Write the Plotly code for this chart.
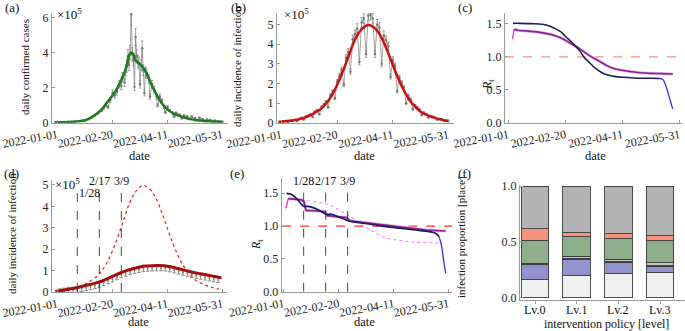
import plotly.graph_objects as go
import pandas as pd

W, H = 685, 331
START = pd.Timestamp("2022-01-01")


def to_dates(days):
    return [START + pd.Timedelta(days=float(d)) for d in days]


# ---------------- (a) daily confirmed cases (x 1e5) ----------------
a_obs_day = [-2, 1, 4, 7, 10, 13, 16, 19, 22, 25, 28, 31, 34, 37, 40, 42, 44, 46, 48, 50,
             52, 54, 56, 58, 59, 61, 62, 63, 64, 65, 66, 67, 68, 69, 70, 71, 72, 73, 74, 75,
             76, 77, 78, 79, 80, 81, 83, 84, 86, 88, 90, 91, 93, 95, 97, 98, 100, 102, 105, 106,
             108, 111, 113, 115, 118, 120, 122, 125, 127, 129, 132, 134, 136, 139, 141, 143, 146, 148, 150]
a_obs_val = [0.02, 0.02, 0.03, 0.03, 0.04, 0.05, 0.06, 0.08, 0.10, 0.13, 0.20, 0.30, 0.42, 0.55, 0.70, 0.85, 1.00, 0.90, 1.30, 1.70,
             1.55, 1.75, 2.20, 2.10, 2.60, 2.30, 3.00, 3.20, 3.80, 3.30, 4.00, 6.20, 3.90, 3.60, 2.05, 4.90, 3.80, 3.50, 3.40, 2.20,
             3.30, 4.25, 3.00, 1.70, 2.90, 2.80, 2.50, 1.50, 2.20, 1.90, 1.50, 1.00, 1.50, 1.25, 0.90, 0.60, 0.90, 0.70, 0.50, 0.35,
             0.55, 0.45, 0.25, 0.40, 0.35, 0.20, 0.35, 0.25, 0.15, 0.28, 0.20, 0.10, 0.18, 0.15, 0.07, 0.12, 0.08, 0.05, 0.06]
a_fit_day = [-2, 5, 10, 15, 20, 25, 30, 35, 40, 45, 50, 55, 58, 61, 63, 65, 67, 69, 71, 74,
             77, 80, 83, 86, 90, 95, 100, 105, 110, 115, 120, 125, 130, 135, 140, 145, 150]
a_fit_val = [0.02, 0.03, 0.04, 0.06, 0.09, 0.14, 0.28, 0.48, 0.75, 1.15, 1.55, 2.05, 2.45, 2.90, 3.30, 3.85, 4.00, 3.90, 3.55, 3.40,
             3.20, 2.95, 2.55, 2.10, 1.60, 1.10, 0.75, 0.55, 0.40, 0.30, 0.22, 0.16, 0.12, 0.09, 0.07, 0.05, 0.04]

# ---------------- (b) daily incidence of infection (x 1e5) ----------------
b_obs_day = list(range(-2, 151, 2))
b_obs_val = [0.06, 0.08, 0.09, 0.10, 0.06, 0.12, 0.14, 0.16, 0.10, 0.22, 0.26, 0.18, 0.33, 0.38, 0.43, 0.30,
             0.58, 0.65, 0.45, 0.82, 0.94, 1.08, 0.80, 1.42, 1.60, 1.25, 2.10, 2.40, 2.70, 1.95, 3.30, 3.60,
             2.60, 4.25, 4.50, 4.80, 3.10, 5.10, 5.30, 3.50, 5.45, 5.50, 5.30, 3.50, 5.00, 4.85, 3.00, 4.45,
             4.20, 3.90, 2.35, 3.20, 2.90, 1.60, 2.30, 2.05, 1.80, 1.00, 1.38, 1.20, 0.70, 0.90, 0.79, 0.69,
             0.40, 0.53, 0.46, 0.28, 0.36, 0.32, 0.28, 0.16, 0.22, 0.19, 0.11, 0.14, 0.11]
b_fit_day = [-2, 0, 5, 10, 15, 20, 25, 30, 35, 40, 45, 50, 55, 60, 65, 70, 75, 78, 80, 85,
             90, 95, 100, 105, 110, 115, 120, 125, 130, 135, 140, 145, 150]
b_fit_val = [0.05, 0.07, 0.10, 0.13, 0.18, 0.26, 0.36, 0.52, 0.70, 0.98, 1.38, 1.93, 2.60, 3.35, 4.10, 4.62, 4.90, 4.97, 4.95, 4.75,
             4.32, 3.68, 2.95, 2.25, 1.65, 1.17, 0.83, 0.57, 0.42, 0.31, 0.22, 0.15, 0.10]

# ---------------- (c) effective reproduction number ----------------
c_navy_day = [4, 10, 20, 27, 34, 41, 46, 50, 55, 59, 63, 66, 70, 76, 82, 88, 94, 100, 110, 118, 126, 132]
c_navy_val = [1.51, 1.51, 1.505, 1.50, 1.48, 1.43, 1.38, 1.31, 1.23, 1.16, 1.08, 1.00, 0.93, 0.83, 0.76, 0.72, 0.70, 0.69, 0.68, 0.675, 0.675, 0.672]
c_navy_end_day = [132, 135, 137, 139, 141, 143, 144]
c_navy_end_val = [0.672, 0.66, 0.60, 0.50, 0.38, 0.26, 0.21]
c_purple_start_day = [3.5, 5]
c_purple_start_val = [1.27, 1.42]
c_purple_day = [5, 8, 15, 25, 35, 41, 47, 53, 58, 62, 66, 70, 75, 80, 86, 91, 98, 106, 115, 124, 135, 144]
c_purple_val = [1.42, 1.405, 1.395, 1.38, 1.35, 1.32, 1.28, 1.22, 1.17, 1.13, 1.08, 1.03, 0.98, 0.93, 0.87, 0.83, 0.80, 0.78, 0.76, 0.75, 0.745, 0.74]
rt_threshold = 1.0

# ---------------- (d) incidence under intervention ----------------
policy_day = [18, 38, 58]
policy_label = ["1/28", "2/17", "3/9"]
d_fit_day = [-2, 5, 10, 17.6, 25, 32, 38, 43, 48, 53, 58, 64, 69, 75, 80, 85, 91, 97, 103, 109, 116, 124, 130, 137, 143, 149]
d_fit_val = [0.02, 0.08, 0.13, 0.20, 0.30, 0.38, 0.47, 0.57, 0.68, 0.80, 0.91, 1.02, 1.10, 1.17, 1.21, 1.23, 1.24, 1.23, 1.18, 1.10, 1.01, 0.91, 0.85, 0.78, 0.72, 0.66]
d_obs_day = list(range(2, 147, 4))
d_obs_val = [0.02, 0.05, 0.08, 0.10, 0.12, 0.16, 0.20, 0.24, 0.29, 0.35, 0.43, 0.52, 0.60, 0.70, 0.79, 0.87, 0.94, 0.99, 1.04,
             1.08, 1.10, 1.11, 1.12, 1.12, 1.11, 1.07, 1.02, 0.97, 0.92, 0.87, 0.81, 0.77, 0.73, 0.69, 0.65, 0.61, 0.57]

# ---------------- (e) R_t under intervention ----------------
e_navy_day = [2.4, 7, 11.6, 16.2, 18.3, 22.3, 28.4, 34.4, 38.4, 43.6, 49.7, 55.8, 58.8, 74, 89.3, 104.6, 119.8, 132, 138, 141.2]
e_navy_val = [1.50, 1.48, 1.42, 1.33, 1.30, 1.30, 1.27, 1.22, 1.18, 1.18, 1.14, 1.10, 1.08, 1.04, 1.00, 0.97, 0.94, 0.915, 0.89, 0.84]
e_navy_end_day = [141.2, 143, 144.2, 145.5, 147.3]
e_navy_end_val = [0.84, 0.74, 0.62, 0.46, 0.28]
e_purple_start_day = [1.8, 4]
e_purple_start_val = [1.27, 1.42]
e_purple_day = [4, 10, 16.2, 18.3, 20.1, 30, 37.5, 39.3, 48, 57.3, 59.8, 74, 98.5, 116.8, 130, 147.3]
e_purple_val = [1.42, 1.41, 1.40, 1.37, 1.24, 1.23, 1.22, 1.16, 1.15, 1.13, 1.08, 1.05, 1.00, 0.96, 0.94, 0.925]

# ---------------- (f) infection proportion by place ----------------
levels = ["Lv.0", "Lv.1", "Lv.2", "Lv.3"]
place_names = ["place1", "place2", "place3", "place4", "place5", "place6", "place7"]
place_share = [
    [0.162, 0.198, 0.213, 0.225],
    [0.134, 0.149, 0.104, 0.059],
    [0.015, 0.007, 0.005, 0.005],
    [0.000, 0.020, 0.025, 0.025],
    [0.204, 0.171, 0.183, 0.198],
    [0.105, 0.039, 0.045, 0.045],
    [0.380, 0.416, 0.425, 0.443],
]
place_colors = ["#f0f0f0", "#9393cf", "#5a5a5a", "#c4c4c4", "#8db08a", "#f7937a", "#b3b3b3"]

# ====================================================================
FONT = "Liberation Serif"
AX = "#9a9a9a"

fig = go.Figure()

gray_kw = dict(mode="lines+markers", line=dict(color="#8a8a8a", width=0.8),
               marker=dict(size=2.5, color="#777777"), hoverinfo="skip")

# (a)
fig.add_trace(go.Scatter(x=to_dates(a_obs_day), y=a_obs_val, xaxis="x", yaxis="y",
                         error_y=dict(type="percent", value=10, color="#8a8a8a", thickness=0.8, width=1.2),
                         **gray_kw))
fig.add_trace(go.Scatter(x=to_dates(a_fit_day), y=a_fit_val, xaxis="x", yaxis="y", mode="lines",
                         line=dict(color="#1f7a1f", width=2.5, shape="spline")))
# (b)
fig.add_trace(go.Scatter(x=to_dates(b_obs_day), y=b_obs_val, xaxis="x2", yaxis="y2",
                         error_y=dict(type="percent", value=5, color="#8a8a8a", thickness=0.8, width=1.2),
                         **gray_kw))
fig.add_trace(go.Scatter(x=to_dates(b_fit_day), y=b_fit_val, xaxis="x2", yaxis="y2", mode="lines",
                         line=dict(color="#cc1010", width=2.5, shape="spline")))
# (c)
fig.add_trace(go.Scatter(x=to_dates([c_navy_day[0] - 7, c_navy_end_day[-1] + 9]), y=[rt_threshold] * 2,
                         xaxis="x3", yaxis="y3", mode="lines",
                         line=dict(color="#ff8a8a", width=1.3, dash="dash")))
fig.add_trace(go.Scatter(x=to_dates(c_purple_day), y=c_purple_val, xaxis="x3", yaxis="y3", mode="lines",
                         line=dict(color="#e2bde2", width=3.0, shape="spline")))
fig.add_trace(go.Scatter(x=to_dates(c_purple_start_day), y=c_purple_start_val, xaxis="x3", yaxis="y3",
                         mode="lines", line=dict(color="#e040e0", width=1.4)))
fig.add_trace(go.Scatter(x=to_dates(c_purple_day), y=c_purple_val, xaxis="x3", yaxis="y3", mode="lines",
                         line=dict(color="#8e1f8e", width=1.6, shape="spline")))
fig.add_trace(go.Scatter(x=to_dates(c_navy_day), y=c_navy_val, xaxis="x3", yaxis="y3", mode="lines",
                         line=dict(color="#1c1c62", width=1.6, shape="spline")))
fig.add_trace(go.Scatter(x=to_dates(c_navy_end_day), y=c_navy_end_val, xaxis="x3", yaxis="y3", mode="lines",
                         line=dict(color="#2f2fe6", width=1.3, shape="spline")))
# (d)
fig.add_trace(go.Scatter(x=to_dates(b_fit_day), y=b_fit_val, xaxis="x4", yaxis="y4", mode="lines",
                         line=dict(color="#ff2020", width=1.3, dash="dot", shape="spline")))
fig.add_trace(go.Scatter(x=to_dates(d_obs_day), y=d_obs_val, xaxis="x4", yaxis="y4", mode="markers",
                         marker=dict(size=2, color="#888888"),
                         error_y=dict(type="constant", value=0.13, color="#8a8a8a", thickness=1.0, width=1.8)))
fig.add_trace(go.Scatter(x=to_dates(d_fit_day), y=d_fit_val, xaxis="x4", yaxis="y4", mode="lines",
                         line=dict(color="#a30f0f", width=3, shape="spline")))
# (e)
fig.add_trace(go.Scatter(x=to_dates([e_navy_day[0] - 4, e_navy_end_day[-1] + 7]), y=[rt_threshold] * 2,
                         xaxis="x5", yaxis="y5", mode="lines",
                         line=dict(color="#ff2a2a", width=1.2, dash="dash")))
fig.add_trace(go.Scatter(x=to_dates(c_purple_day), y=c_purple_val, xaxis="x5", yaxis="y5", mode="lines",
                         line=dict(color="#ff78ff", width=1.1, dash="dot", shape="spline")))
fig.add_trace(go.Scatter(x=to_dates(e_purple_day), y=e_purple_val, xaxis="x5", yaxis="y5", mode="lines",
                         line=dict(color="#e2bde2", width=3.0)))
fig.add_trace(go.Scatter(x=to_dates(e_purple_start_day), y=e_purple_start_val, xaxis="x5", yaxis="y5",
                         mode="lines", line=dict(color="#e040e0", width=1.4)))
fig.add_trace(go.Scatter(x=to_dates(e_purple_day), y=e_purple_val, xaxis="x5", yaxis="y5", mode="lines",
                         line=dict(color="#8e1f8e", width=1.7)))
fig.add_trace(go.Scatter(x=to_dates(e_navy_day), y=e_navy_val, xaxis="x5", yaxis="y5", mode="lines",
                         line=dict(color="#1c1c62", width=1.7, shape="spline")))
fig.add_trace(go.Scatter(x=to_dates(e_navy_end_day), y=e_navy_end_val, xaxis="x5", yaxis="y5", mode="lines",
                         line=dict(color="#2f2fe6", width=1.3, shape="spline")))
# (f)
for name, share, col in zip(place_names, place_share, place_colors):
    fig.add_trace(go.Bar(x=list(range(len(levels))), y=share, name=name, xaxis="x6", yaxis="y6",
                         marker=dict(color=col, line=dict(color="#3c3c3c", width=0.9)), width=0.66))


def px_x(p):
    return p / W


def px_y(p):
    return 1 - p / H


date_ticks = ["2022-01-01", "2022-02-20", "2022-04-11", "2022-05-31"]
tick_font = dict(family=FONT, size=12, color="#222")

xbase = dict(type="date", tickvals=date_ticks, ticktext=date_ticks, tickangle=-10, showline=True,
             linecolor=AX, linewidth=1, ticks="inside", ticklen=3, tickcolor=AX, showgrid=False,
             zeroline=False, tickfont=tick_font, fixedrange=True, automargin=False)
ybase = dict(showline=True, linecolor=AX, linewidth=1, ticks="inside", ticklen=3, tickcolor=AX,
             showgrid=False, zeroline=False, tickfont=tick_font, fixedrange=True, automargin=False)

panels = {
    # key: (x0, x1, ytop, ybottom, xrange, yrange, yticks, fmt)
    "1": (52, 228, 13, 122.7, ["2021-12-27", "2022-06-05"], [0, 6.27], [0, 2, 4, 6], None),
    "2": (277, 454, 13, 123, ["2021-12-28", "2022-06-05"], [0, 5.58], [0, 1, 2, 3, 4, 5], None),
    "3": (505, 682, 13, 122.7, ["2021-12-29", "2022-06-02"], [0, 1.667], [0, 0.5, 1.0, 1.5], ".1f"),
    "4": (52, 227, 180, 292, ["2021-12-27", "2022-06-04"], [0, 5.23], [0, 1, 2, 3, 4, 5], None),
    "5": (281.7, 452, 178, 291.7, ["2021-12-30", "2022-06-03"], [0, 1.733], [0, 0.5, 1.0, 1.5], ".1f"),
}

layout = dict(width=W, height=H, autosize=False, margin=dict(l=0, r=0, t=0, b=0, pad=0),
              paper_bgcolor="white", plot_bgcolor="white", showlegend=False, barmode="stack",
              font=dict(family=FONT, size=12, color="#222"))

for k, (x0, x1, yt, yb, xr, yr, yt_vals, fmt) in panels.items():
    xn = "xaxis" if k == "1" else "xaxis" + k
    yn = "yaxis" if k == "1" else "yaxis" + k
    ax_id = "x" if k == "1" else "x" + k
    ay_id = "y" if k == "1" else "y" + k
    xa = dict(xbase, domain=[px_x(x0), px_x(x1)], range=xr, anchor=ay_id)
    ya = dict(ybase, domain=[px_y(yb), px_y(yt)], range=yr, tickvals=yt_vals, anchor=ax_id)
    if fmt:
        ya["tickformat"] = fmt
    layout[xn] = xa
    layout[yn] = ya

layout["xaxis6"] = dict(domain=[px_x(520), px_x(685)], range=[-0.36, 3.6], tickvals=list(range(len(levels))),
                        showticklabels=False, showline=True, linecolor=AX, linewidth=1, ticks="outside",
                        ticklen=3, tickcolor=AX, showgrid=False, zeroline=False,
                        anchor="y6", fixedrange=True, automargin=False)
layout["yaxis6"] = dict(ybase, domain=[px_y(300), px_y(185)], range=[-0.02, 1.01], tickvals=[0, 0.5, 1.0],
                        tickformat=".1f", anchor="x6")

fig.update_layout(**layout)

# vertical policy lines (d) and (e)
for xref, yref, ytop in (("x4", "y4", 4.95), ("x5", "y5", 1.6)):
    for d in policy_day:
        fig.add_shape(type="line", xref=xref, yref=yref, x0=to_dates([d])[0], x1=to_dates([d])[0],
                      y0=0, y1=ytop, line=dict(color="#333", width=0.9, dash="dash"))

ann = []


def note(text, x, y, size=12, xanchor="center", yanchor="middle", angle=0, xref="paper", yref="paper"):
    ann.append(dict(text=text, x=x, y=y, xref=xref, yref=yref, showarrow=False, xanchor=xanchor,
                    yanchor=yanchor, textangle=angle, font=dict(family=FONT, size=size, color="#111")))


# panel letters
for lab, (x, y) in {"(a)": (3, 7), "(b)": (229, 7), "(c)": (456, 7),
                    "(d)": (2, 174), "(e)": (228, 174), "(f)": (456, 174)}.items():
    note(lab, px_x(x), px_y(y), size=13, xanchor="left")

# x10^5 factors
for (x, y) in ((55, 14), (282, 14), (53, 184)):
    note("×10<sup>5</sup>", px_x(x), px_y(y), size=13, xanchor="left")

# axis titles
note("daily confirmed cases", px_x(25), px_y(67), size=11, angle=-90)
note("daily incidence of infection", px_x(237), px_y(67), size=11, angle=-90)
note("<i>R</i><sub>t</sub>", px_x(488), px_y(85), size=12, angle=-90)
note("daily incidence of infection", px_x(12), px_y(234), size=11, angle=-90)
note("<i>R</i><sub>t</sub>", px_x(257), px_y(245), size=12, angle=-90)
note("infection proportion [place]", px_x(461), px_y(237), size=11, angle=-90)
for (x, y) in ((139, 156), (364, 156), (595, 156), (138, 322), (364, 322)):
    note("date", px_x(x), px_y(y), size=12.5)
note("intervention policy [level]", px_x(606), px_y(323.5), size=12)
for i, lv in enumerate(levels):
    note(lv, i, px_y(310), size=12, xref="x6")

# policy date labels
note(policy_label[0], to_dates([policy_day[0]])[0], px_y(193), xanchor="left", xref="x4")
for i in (1, 2):
    note(policy_label[i], to_dates([policy_day[i]])[0], px_y(181), xref="x4")
for i in range(3):
    note(policy_label[i], to_dates([policy_day[i]])[0], px_y(181), xref="x5")

fig.update_layout(annotations=ann)
fig.write_html("out.html", config={"displayModeBar": False},
               post_script="document.body.style.margin='0';document.body.style.overflow='hidden';")
